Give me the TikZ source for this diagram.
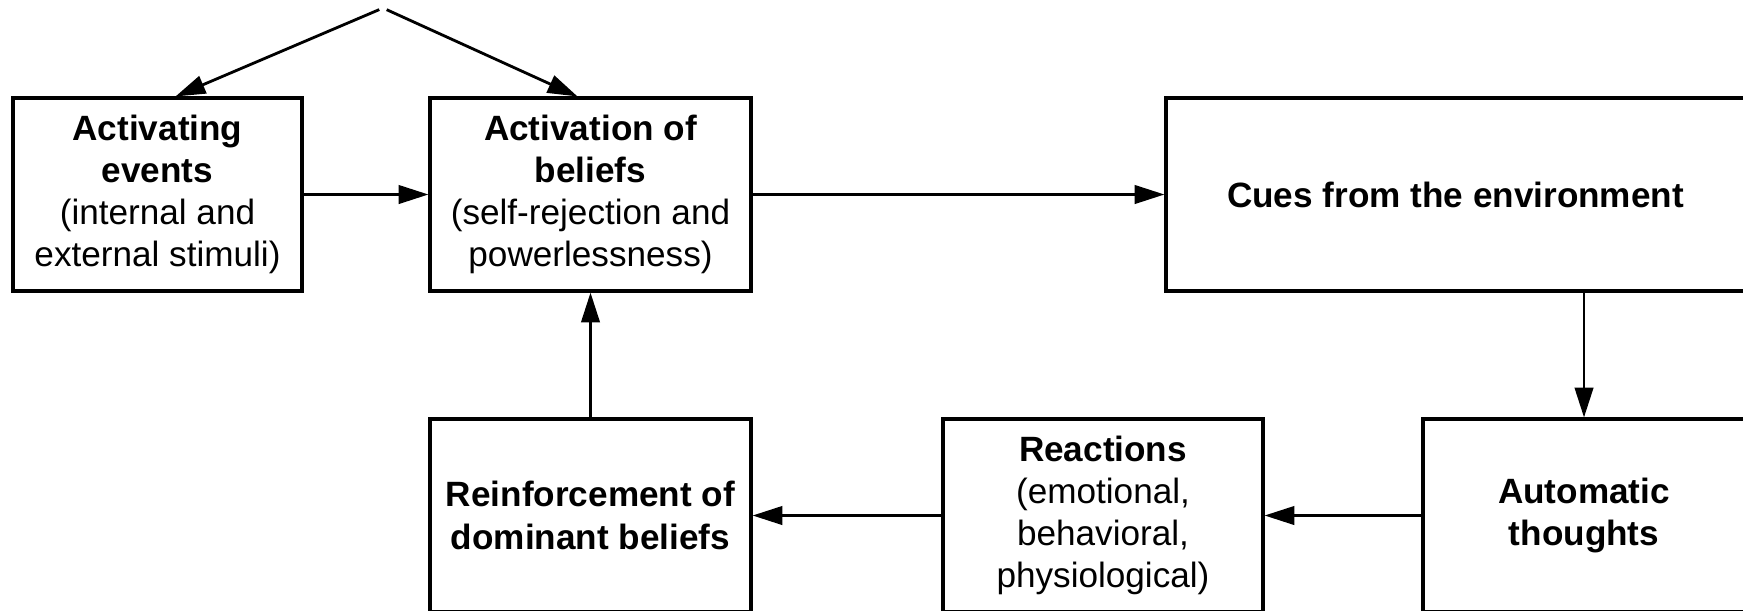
\documentclass[tikz,border=0pt]{standalone}
\usepackage{fontspec}
\setmainfont{Liberation Sans}
\usetikzlibrary{arrows.meta,positioning,calc}
\tikzset{
  cbox/.style={draw, line width=1.8pt, inner sep=0pt, align=center,
    minimum height=3.86cm, font=\fontsize{20}{24}\selectfont},
  flow/.style={line width=1.6pt, -{Triangle[length=17pt,width=10.5pt]}}
}
\begin{document}
\begin{tikzpicture}[x=0.02cm,y=-0.02cm]
  \path[use as bounding box, clip] (0,0) rectangle (1743,610);

  %% top line
  \node [cbox, minimum width=5.78cm] (box_events) at(157.5,194.5)
    {\textbf{Activating}\\\textbf{events}\\(internal and\\external stimuli)};
  \node [cbox, minimum width=6.42cm] (box_belief) at(590.5,194.5)
    {\textbf{Activation of}\\\textbf{beliefs}\\(self-rejection and\\powerlessness)};
  \node [cbox, minimum width=11.58cm] (box_cues) at(1455.5,194.5)
    {\textbf{Cues from the environment}};

  %% bottom line
  \node [cbox, minimum width=6.44cm] (box_auto) at(1584,515.5)
    {\textbf{Automatic}\\\textbf{thoughts}};
  \node [cbox, minimum width=6.4cm] (box_react) at(1103,515.5)
    {\textbf{Reactions}\\(emotional,\\behavioral,\\physiological)};
  \node [cbox, minimum width=6.42cm] (box_reinf) at(590.5,515.5)
    {\textbf{Reinforcement of}\\\textbf{dominant beliefs}};

  %% arrows
  \coordinate (src) at (383,8);
  \draw[flow, shorten <=2.3pt] (src) -- ($(box_events.north)+(18,0)$);
  \draw[flow, shorten <=2.3pt] (src) -- ($(box_belief.north)+(-13,0)$);
  \draw[flow] (box_events) -- (box_belief);
  \draw[flow] (box_belief) -- (box_cues);
  \draw[flow] (box_auto.north |- box_cues.south) -- (box_auto.north);
  \draw[flow] (box_auto) -- (box_react);
  \draw[flow] (box_react) -- (box_reinf);
  \draw[flow] (box_reinf) -- (box_belief);
\end{tikzpicture}
\end{document}
